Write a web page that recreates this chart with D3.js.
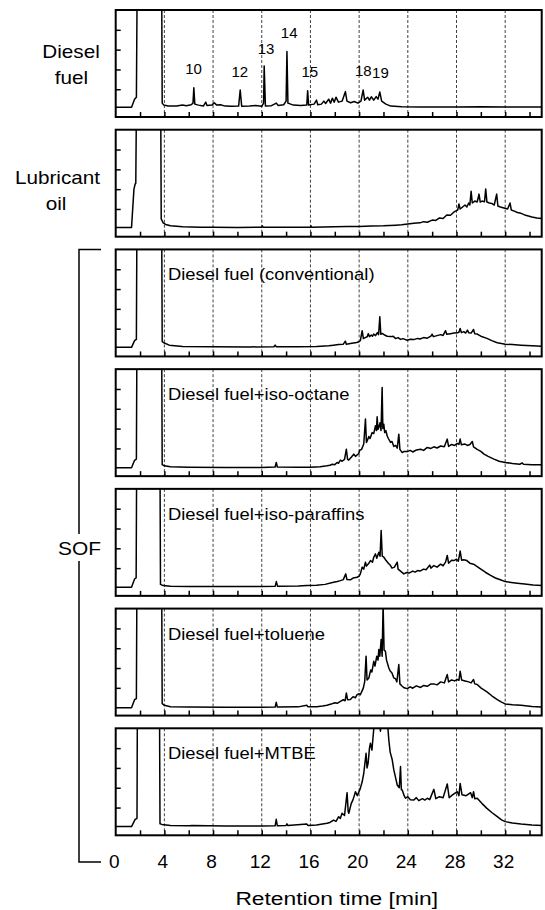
<!DOCTYPE html>
<html lang="en">
<head>
<meta charset="UTF-8">
<title>GC chromatograms of SOF</title>
<script src="https://cdn.jsdelivr.net/npm/d3@7"></script>
<style>
  body { margin: 0; background: #fff; }
  text { font-family: Arial, "Liberation Sans", sans-serif; fill: #000; }
</style>
</head>
<body>
<div id="container"></div>
<script>
// retention time [min], detector signal (1 unit = 1 axis tick)
const dieselFuel = [[0,0.09],[1.3,0.09],[1.55,0.5],[1.7,0.6],[1.76,6],[3.78,6],[3.82,0.3],[3.95,0.2],[4.3,0.16],[5,0.15],[5.5,0.2],[5.8,0.17],[6.2,0.22],[6.35,0.3],[6.42,1.08],[6.5,0.25],[6.8,0.2],[7.2,0.15],[7.4,0.35],[7.5,0.18],[7.9,0.2],[8.1,0.32],[8.3,0.2],[8.6,0.22],[9,0.15],[9.5,0.14],[10.1,0.15],[10.23,0.96],[10.35,0.14],[11,0.15],[11.5,0.18],[12.0,0.14],[12.15,0.3],[12.2,2.18],[12.3,0.15],[12.8,0.17],[13.2,0.3],[13.35,0.18],[13.8,0.22],[14.0,0.4],[14.07,2.9],[14.15,0.3],[14.6,0.2],[15.2,0.18],[15.7,0.2],[15.77,0.93],[15.85,0.2],[16.3,0.25],[16.5,0.45],[16.6,0.22],[16.9,0.25],[17.1,0.4],[17.25,0.28],[17.5,0.5],[17.65,0.3],[17.8,0.55],[17.95,0.35],[18.1,0.6],[18.3,0.35],[18.6,0.4],[18.87,0.88],[19.0,0.4],[19.3,0.32],[19.6,0.38],[19.9,0.3],[20.15,0.4],[20.33,0.96],[20.45,0.45],[20.7,0.6],[20.85,0.45],[21.0,0.62],[21.2,0.45],[21.4,0.63],[21.55,0.5],[21.7,0.86],[21.85,0.4],[22.2,0.25],[22.6,0.15],[23.5,0.12],[25,0.1],[28,0.1],[30,0.12],[32,0.1],[35,0.1]];

const lubricantOil = [[0,0.07],[1.3,0.07],[1.5,2.0],[1.6,2.26],[1.65,2.3],[1.7,6],[3.7,6],[3.74,0.5],[3.9,0.3],[4.1,0.22],[4.5,0.15],[5.5,0.1],[7,0.08],[8,0.08],[10,0.07],[12,0.08],[12.05,0.15],[12.1,0.08],[14,0.08],[16,0.08],[16.05,0.15],[16.1,0.08],[18,0.1],[19,0.12],[20,0.12],[21,0.14],[22,0.15],[23,0.18],[23.5,0.2],[24,0.24],[24.5,0.28],[25,0.3],[25.3,0.36],[25.6,0.33],[26,0.44],[26.3,0.42],[26.6,0.55],[26.9,0.52],[27.2,0.7],[27.5,0.68],[27.8,0.85],[28.0,0.92],[28.1,0.95],[28.2,1.25],[28.3,1.0],[28.5,1.1],[28.7,1.2],[28.85,1.1],[29.0,1.3],[29.1,1.2],[29.2,1.89],[29.3,1.3],[29.5,1.4],[29.7,1.35],[29.85,1.75],[29.95,1.35],[30.1,1.4],[30.3,1.36],[30.4,2.01],[30.5,1.35],[30.7,1.3],[30.9,1.28],[31.1,1.2],[31.3,1.75],[31.4,1.15],[31.6,1.1],[31.9,1.05],[32.2,1.0],[32.4,1.3],[32.5,0.95],[32.8,0.88],[33.0,0.82],[33.3,0.78],[33.6,0.7],[33.9,0.65],[34.2,0.6],[34.6,0.55],[35,0.52]];

const sofConventional = [[0,0.06],[1.3,0.06],[1.55,0.4],[1.7,0.46],[1.74,6],[3.78,6],[3.82,0.35],[3.95,0.29],[4.4,0.17],[5.5,0.1],[8,0.09],[11,0.08],[13.0,0.09],[13.1,0.17],[13.2,0.09],[15,0.09],[16.5,0.1],[17.5,0.14],[17.9,0.17],[18.3,0.2],[18.7,0.22],[18.87,0.37],[18.95,0.22],[19.4,0.26],[19.8,0.3],[19.97,0.34],[20.1,0.4],[20.25,0.9],[20.35,0.5],[20.5,0.55],[20.66,0.59],[20.75,0.75],[20.85,0.6],[21.0,0.68],[21.1,0.62],[21.2,0.73],[21.35,0.65],[21.5,0.8],[21.6,0.7],[21.7,1.6],[21.78,0.72],[21.9,0.76],[22.1,0.68],[22.3,0.62],[22.6,0.6],[22.8,0.62],[23.0,0.5],[23.2,0.55],[23.4,0.46],[23.6,0.5],[23.95,0.42],[24.2,0.47],[24.5,0.45],[24.8,0.51],[25.0,0.48],[25.3,0.55],[25.6,0.52],[25.9,0.63],[26.0,0.72],[26.1,0.6],[26.4,0.65],[26.7,0.7],[26.9,0.66],[27.1,0.9],[27.2,0.72],[27.5,0.75],[27.8,0.78],[28.07,0.79],[28.2,0.82],[28.3,1.01],[28.4,0.8],[28.6,0.85],[28.75,0.78],[28.9,0.93],[29.0,0.8],[29.2,0.78],[29.4,0.96],[29.5,0.74],[29.7,0.73],[30.0,0.62],[30.5,0.51],[30.9,0.4],[31.35,0.29],[31.7,0.25],[32.0,0.22],[32.6,0.2],[33.3,0.17],[34.2,0.14],[35,0.12]];

const sofIsoOctane = [[0,0.02],[1.3,0.02],[1.55,0.4],[1.7,0.46],[1.74,6],[3.78,6],[3.82,0.18],[4.0,0.12],[4.5,0.07],[6,0.05],[9,0.04],[12,0.04],[13.1,0.06],[13.19,0.29],[13.28,0.06],[15,0.05],[16,0.05],[16.8,0.08],[17.36,0.12],[17.6,0.15],[17.8,0.2],[18.0,0.18],[18.19,0.29],[18.3,0.25],[18.46,0.41],[18.6,0.35],[18.8,0.45],[18.95,0.96],[19.05,0.45],[19.15,0.41],[19.35,0.55],[19.56,0.71],[19.7,0.6],[19.85,0.68],[19.97,0.74],[20.05,0.91],[20.2,0.95],[20.38,1.22],[20.52,2.48],[20.6,1.3],[20.66,1.38],[20.8,1.6],[20.9,1.5],[21.07,1.8],[21.2,1.75],[21.34,2.14],[21.42,1.9],[21.48,2.6],[21.55,1.95],[21.62,2.06],[21.72,2.3],[21.8,1.9],[21.89,4.08],[21.95,2.0],[22.03,2.22],[22.1,1.8],[22.2,1.9],[22.3,1.64],[22.4,1.5],[22.58,1.3],[22.7,1.35],[22.85,1.1],[23.0,1.15],[23.13,1.01],[23.26,1.72],[23.35,0.95],[23.54,0.79],[23.7,0.85],[23.95,0.84],[24.2,0.9],[24.4,0.82],[24.7,0.92],[25.05,0.96],[25.3,0.9],[25.6,1.05],[25.9,1.0],[26.14,1.08],[26.4,1.02],[26.7,1.12],[27.0,1.08],[27.24,1.47],[27.35,1.1],[27.6,1.2],[27.85,1.15],[28.07,1.25],[28.2,1.2],[28.3,1.47],[28.4,1.18],[28.7,1.22],[28.9,1.15],[29.1,1.2],[29.3,1.35],[29.4,1.08],[29.7,0.95],[30.0,0.85],[30.26,0.71],[30.6,0.6],[31.08,0.46],[31.5,0.35],[32.0,0.29],[32.6,0.24],[33.2,0.2],[33.4,0.27],[33.5,0.2],[34.2,0.18],[35,0.17]];

const sofIsoParaffins = [[0,0.04],[1.3,0.04],[1.55,0.45],[1.68,0.51],[1.72,6],[3.64,6],[3.68,0.18],[3.9,0.12],[4.5,0.08],[6,0.07],[9,0.07],[12,0.07],[13.1,0.08],[13.2,0.32],[13.3,0.08],[15.0,0.1],[15.7,0.12],[16.5,0.13],[17.2,0.18],[17.9,0.29],[18.2,0.33],[18.46,0.37],[18.7,0.42],[18.9,0.71],[19.0,0.42],[19.28,0.41],[19.5,0.5],[19.83,0.54],[20.0,0.6],[20.1,0.71],[20.25,1.05],[20.38,0.95],[20.52,1.3],[20.6,1.1],[20.8,1.25],[20.93,1.38],[21.1,1.3],[21.2,1.55],[21.34,1.72],[21.45,1.5],[21.62,1.8],[21.72,1.6],[21.81,2.9],[21.9,1.6],[22.03,1.55],[22.2,1.4],[22.4,1.25],[22.58,1.13],[22.7,1.0],[22.9,1.05],[23.13,1.3],[23.2,0.95],[23.4,0.85],[23.67,0.71],[23.9,0.78],[24.1,0.75],[24.4,0.85],[24.6,0.8],[24.8,0.88],[25.0,0.85],[25.3,0.95],[25.5,0.92],[25.8,1.15],[25.9,1.0],[26.14,1.13],[26.4,1.05],[26.7,1.2],[26.9,1.12],[27.1,1.3],[27.24,1.64],[27.35,1.25],[27.6,1.4],[27.79,1.38],[28.0,1.45],[28.15,1.35],[28.3,1.86],[28.42,1.4],[28.6,1.42],[28.85,1.38],[29.1,1.25],[29.4,1.2],[29.7,1.08],[30.0,0.95],[30.4,0.78],[30.8,0.63],[31.2,0.5],[31.6,0.41],[32.0,0.32],[32.5,0.28],[33.0,0.24],[33.6,0.2],[34.3,0.15],[35,0.12]];

const sofToluene = [[0,0.0],[1.3,0.0],[1.55,0.4],[1.7,0.46],[1.74,6],[3.78,6],[3.82,0.2],[4.0,0.12],[4.5,0.05],[6,0.03],[9,0.02],[12,0.02],[13.1,0.03],[13.19,0.27],[13.28,0.03],[15.0,0.04],[15.7,0.12],[15.8,0.04],[16.5,0.05],[17.0,0.08],[17.36,0.12],[17.7,0.18],[18.0,0.25],[18.2,0.22],[18.46,0.32],[18.7,0.4],[18.85,0.35],[18.95,0.74],[19.05,0.4],[19.28,0.41],[19.5,0.55],[19.7,0.5],[19.83,0.66],[20.0,0.7],[20.1,0.65],[20.25,0.86],[20.35,1.0],[20.46,1.33],[20.57,2.6],[20.65,1.4],[20.8,1.5],[20.95,1.9],[21.05,1.8],[21.2,2.34],[21.3,2.1],[21.45,2.6],[21.55,2.4],[21.62,2.93],[21.7,2.6],[21.81,3.44],[21.89,2.6],[21.97,5.2],[22.05,2.9],[22.16,2.85],[22.25,2.4],[22.44,2.0],[22.55,1.85],[22.7,1.75],[22.85,1.5],[23.0,1.45],[23.1,1.3],[23.26,2.18],[23.35,1.2],[23.54,1.08],[23.7,1.0],[23.95,0.96],[24.2,1.05],[24.4,0.98],[24.7,1.1],[25.05,1.02],[25.3,1.12],[25.6,1.08],[25.9,1.2],[26.14,1.2],[26.4,1.15],[26.7,1.3],[27.0,1.25],[27.24,1.67],[27.35,1.3],[27.6,1.4],[27.85,1.35],[28.07,1.42],[28.2,1.38],[28.3,1.84],[28.42,1.4],[28.7,1.35],[29.0,1.3],[29.2,1.25],[29.4,1.42],[29.5,1.2],[29.7,1.17],[30.0,1.0],[30.5,0.8],[30.9,0.6],[31.35,0.41],[31.7,0.28],[32.0,0.19],[32.6,0.15],[33.3,0.12],[34.2,0.06],[35,0.03]];

const sofMTBE = [[0,0.04],[1.3,0.04],[1.6,0.4],[1.75,0.46],[1.78,6],[3.6,6],[3.64,0.18],[3.8,0.15],[4.5,0.1],[6,0.08],[6.3,0.1],[9,0.07],[12,0.07],[13.1,0.08],[13.19,0.41],[13.28,0.08],[14.0,0.1],[14.07,0.18],[14.15,0.09],[15.7,0.17],[15.8,0.1],[16.5,0.12],[17.36,0.21],[17.6,0.25],[17.9,0.37],[18.1,0.3],[18.32,0.54],[18.45,0.45],[18.6,0.71],[18.8,0.6],[19.01,1.75],[19.1,0.8],[19.15,0.71],[19.35,1.2],[19.5,1.4],[19.7,1.8],[19.85,1.6],[20.1,1.97],[20.25,2.3],[20.38,2.73],[20.57,3.74],[20.65,3.0],[20.74,3.24],[20.85,4.0],[20.93,4.25],[21.05,3.9],[21.2,4.95],[21.3,5.5],[21.6,5.6],[21.75,4.85],[21.85,5.5],[22.3,5.5],[22.44,4.41],[22.55,3.8],[22.72,3.41],[22.85,2.9],[23.0,2.5],[23.13,2.14],[23.3,2.0],[23.4,3.07],[23.47,1.9],[23.54,1.89],[23.7,1.6],[23.81,1.47],[24.0,1.55],[24.2,1.4],[24.5,1.38],[24.7,1.5],[24.9,1.35],[25.2,1.45],[25.4,1.38],[25.6,1.47],[25.8,1.4],[26.14,1.92],[26.3,1.45],[26.6,1.55],[26.9,1.5],[27.24,2.19],[27.4,1.5],[27.7,1.65],[28.07,1.8],[28.2,1.6],[28.3,2.22],[28.45,1.65],[28.8,1.6],[29.16,1.75],[29.3,1.5],[29.4,1.8],[29.5,1.45],[29.7,1.47],[30.1,1.2],[30.5,0.96],[30.9,0.75],[31.35,0.54],[31.7,0.38],[32.0,0.29],[32.6,0.22],[33.3,0.17],[34.2,0.12],[35,0.1]];

const traces = [dieselFuel, lubricantOil, sofConventional, sofIsoOctane, sofIsoParaffins, sofToluene, sofMTBE];
const insideLabels = [null, null, "Diesel fuel (conventional)", "Diesel fuel+iso-octane", "Diesel fuel+iso-paraffins", "Diesel fuel+toluene", "Diesel fuel+MTBE"];

// carbon-number labels in the diesel fuel panel: [text, time, height]
const peakLabels = [["10", 6.4, 1.75], ["12", 10.2, 1.6], ["13", 12.35, 2.8], ["14", 14.25, 3.6], ["15", 15.95, 1.6], ["18", 20.35, 1.65], ["19", 21.75, 1.55]];

const xTickLabels = [0, 4, 8, 12, 16, 20, 24, 28, 32];
const gridTimes = [4, 8, 12, 16, 20, 24, 28, 32];
const minorTimes = d3.range(2, 35, 2);
const yTicks = [1, 2, 3, 4];

const width = 545;
const height = 910;
const panelH = 107;
const stretch = 1.15;

const x = d3.scaleLinear().domain([0, 35]).range([115.7, 541.7]);
const panelTop = d3.scaleLinear().domain([0, 6]).range([10, 728.3]);

const svg = d3.create("svg")
    .attr("width", width)
    .attr("height", height);

const line = d3.line();

traces.forEach((trace, i) => {
    const top = panelTop(i);
    const y = d3.scaleLinear().domain([-0.4, 5]).range([top + panelH, top]);
    const g = svg.append("g");

    g.append("clipPath").attr("id", "clip" + i)
      .append("rect")
        .attr("x", x(0)).attr("y", top)
        .attr("width", x(35) - x(0)).attr("height", panelH);

    g.selectAll(".grid").data(gridTimes).join("line")
        .attr("x1", d => x(d)).attr("x2", d => x(d))
        .attr("y1", top).attr("y2", top + panelH)
        .attr("stroke", "#111").attr("stroke-width", 0.8)
        .attr("stroke-dasharray", "3,2");

    g.append("path")
        .attr("clip-path", `url(#clip${i})`)
        .attr("fill", "none")
        .attr("stroke", "#000")
        .attr("stroke-width", 1.5)
        .attr("stroke-linejoin", "round")
        .attr("d", line(trace.map(d => [x(d[0]), y(d[1])])));

    // inner ticks
    const yAxis = g.append("g")
        .attr("transform", `translate(${x(0)},0)`)
        .call(d3.axisRight(y).tickValues(yTicks).tickSize(5).tickFormat(""));
    const xAxis = g.append("g")
        .attr("transform", `translate(0,${top + panelH})`)
        .call(d3.axisTop(x).tickValues(minorTimes).tickSize(5).tickFormat(""));
    [yAxis, xAxis].forEach(a => {
        a.select(".domain").remove();
        a.selectAll("line").attr("stroke-width", 1.5);
    });

    g.append("rect")
        .attr("x", x(0)).attr("y", top)
        .attr("width", x(35) - x(0)).attr("height", panelH)
        .attr("fill", "none").attr("stroke", "#000").attr("stroke-width", 2);

    if (insideLabels[i]) {
        g.append("text")
            .attr("transform", `translate(168,${top + 31}) scale(${stretch},1)`)
            .attr("font-size", 16)
            .text(insideLabels[i]);
    }

    if (i === 0) {
        g.selectAll(".peak").data(peakLabels).join("text")
            .attr("x", d => x(d[1]))
            .attr("y", d => y(d[2]))
            .attr("text-anchor", "middle")
            .attr("font-size", 15)
            .text(d => d[0]);
    }
});

// x tick labels and title
const bottom = panelTop(6) + panelH;
const xLabels = svg.append("g")
    .attr("transform", `translate(-2,${bottom})`)
    .call(d3.axisBottom(x).tickValues(xTickLabels).tickSize(0).tickPadding(19));
xLabels.select(".domain").remove();
xLabels.selectAll("text").attr("font-size", 19).attr("font-family", null);

svg.append("text")
    .attr("transform", `translate(336.7,905) scale(1.2,1)`)
    .attr("text-anchor", "middle")
    .attr("font-size", 19)
    .text("Retention time [min]");

// left labels
const sideLabels = [["Diesel", 71, 58], ["fuel", 71.5, 84], ["Lubricant", 57.5, 184], ["oil", 56, 210]];
svg.selectAll(".side").data(sideLabels).join("text")
    .attr("transform", d => `translate(${d[1]},${d[2]}) scale(${stretch},1)`)
    .attr("text-anchor", "middle")
    .attr("font-size", 18)
    .text(d => d[0]);

// SOF bracket
const bTop = panelTop(2);
const bBottom = 862;
svg.append("path")
    .attr("fill", "none").attr("stroke", "#000").attr("stroke-width", 1.5)
    .attr("d", `M101,${bTop}H79V534M79,561V${bBottom}H101`);
svg.append("text")
    .attr("transform", `translate(79.5,555) scale(1.1,1)`)
    .attr("text-anchor", "middle")
    .attr("font-size", 19)
    .text("SOF");

document.getElementById("container").append(svg.node());
</script>
</body>
</html>
